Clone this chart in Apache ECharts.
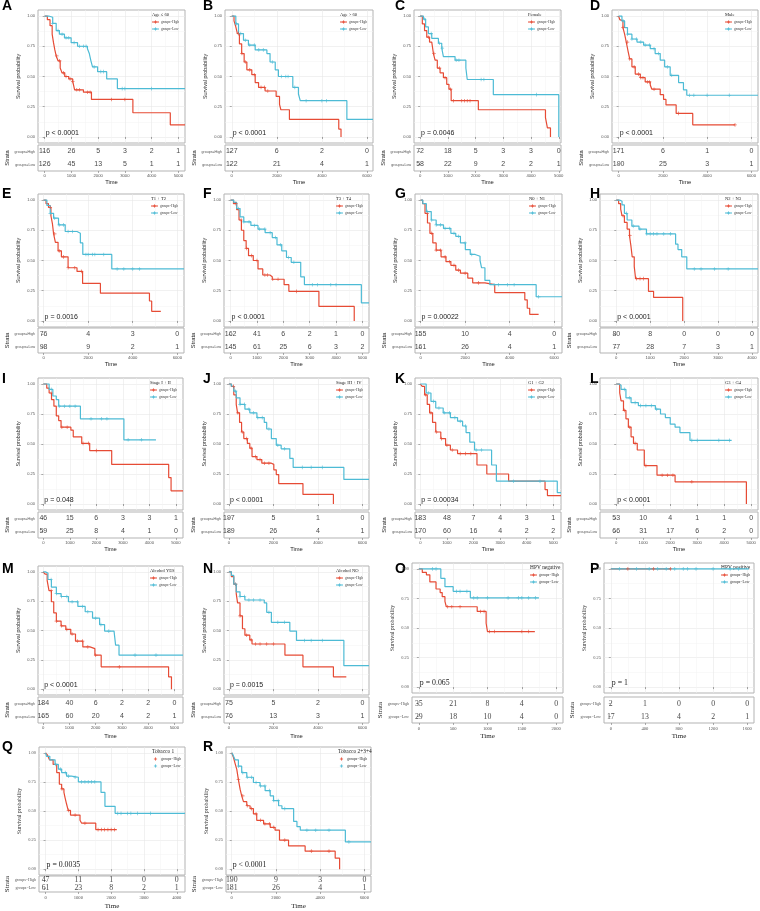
<!DOCTYPE html>
<html><head><meta charset="utf-8">
<script src="https://cdn.jsdelivr.net/npm/echarts@6/dist/echarts.min.js"></script>
<style>html,body{margin:0;padding:0;background:#fff}#c{width:760px;height:911px}</style>
</head><body><div id="c"></div>
<script>
// ---------------- DATA ----------------
var panelIds = ['A','B','C','D','E','F','G','H','I','J','K','L','M','N','O','P','Q','R'];
var legendTitles = ['Age \u2264 60','Age > 60','Female','Male','T1 + T2','T3 + T4','N0 + N1','N2 + N3','Stage I + II','Stage III + IV','G1 + G2','G3 + G4','Alcohol YES','Alcohol NO','HPV negative','HPV positive','Tobacco 1','Tobacco 2+3+4'];
var pValues = ['p < 0.0001','p < 0.0001','p = 0.0046','p < 0.0001','p = 0.0016','p < 0.0001','p = 0.00022','p < 0.0001','p = 0.048','p < 0.0001','p = 0.00034','p < 0.0001','p < 0.0001','p = 0.0015','p = 0.065','p = 1','p = 0.0035','p < 0.0001'];
var groupNames = ['groups=High','groups=Low'];

var A_high = [[0,1],[100,0.97],[200,0.92],[280,0.85],[330,0.78],[380,0.72],[430,0.67],[500,0.63],[580,0.57],[650,0.53],[750,0.50],[900,0.48],[1050,0.46],[1120,0.39],[1450,0.37],[1750,0.31],[3300,0.20],[4700,0.10],[5250,0.10]];
var A_low = [[0,1],[150,0.99],[300,0.94],[430,0.88],[550,0.85],[740,0.82],[990,0.78],[1230,0.75],[1600,0.73],[1670,0.69],[1730,0.63],[1790,0.58],[1980,0.54],[2320,0.48],[2720,0.40],[5250,0.40]];
var A_highCens = [450,560,700,800,950,1050,1200,1300,1600,1700,2500,3000];
var A_lowCens = [300,500,650,800,900,1100,1300,1450,1550,1850,2100,2200,2900,3000,4000];
var A_ticks = [0,1000,2000,3000,4000,5000];
var A_riskHigh = [116,26,5,3,2,1];
var A_riskLow = [126,45,13,5,1,1];

var B_high = [[0,1],[100,0.96],[180,0.91],[250,0.855],[340,0.77],[440,0.69],[550,0.62],[670,0.555],[890,0.515],[1040,0.45],[1190,0.41],[1480,0.38],[1970,0.335],[2120,0.27],[2180,0.225],[2560,0.145],[4750,0.065],[4850,0]];
var B_low = [[0,1],[180,0.935],[300,0.855],[520,0.80],[740,0.76],[1040,0.72],[1560,0.69],[1700,0.62],[1930,0.555],[2070,0.50],[2710,0.41],[2960,0.355],[3040,0.30],[5110,0.145],[6270,0.145]];
var B_highCens = [300,450,600,800,1000,1300,1450,1600];
var B_lowCens = [200,400,600,800,1000,1200,1400,1800,2200,2400,2500,2800,3300,4000,4200];
var B_ticks = [0,2000,4000,6000];
var B_riskHigh = [127,6,2,0];
var B_riskLow = [122,21,4,1];

var C_high = [[0,1],[80,0.935],[160,0.88],[240,0.825],[340,0.785],[420,0.77],[480,0.69],[540,0.635],[620,0.57],[720,0.53],[840,0.49],[960,0.435],[1040,0.395],[1120,0.30],[2100,0.225],[4520,0.16],[4590,0.075],[4700,0]];
var C_low = [[0,1],[120,0.975],[200,0.91],[300,0.855],[420,0.815],[660,0.775],[780,0.735],[840,0.665],[1260,0.635],[1650,0.57],[1700,0.475],[2640,0.35],[5000,0]];
var C_highCens = [300,500,700,900,1100,1200,1500,1600,1700,1800];
var C_lowCens = [150,400,700,800,1300,1400,2200,2300,4200];
var C_ticks = [0,1000,2000,3000,4000,5000];
var C_riskHigh = [72,18,5,3,3,0];
var C_riskLow = [58,22,9,2,2,1];

var D_high = [[0,1],[50,0.97],[105,0.96],[195,0.905],[270,0.85],[345,0.785],[420,0.715],[500,0.645],[600,0.58],[750,0.52],[980,0.49],[1200,0.455],[1430,0.43],[1500,0.395],[1880,0.35],[2030,0.31],[2140,0.265],[2600,0.195],[3350,0.10],[5260,0.10]];
var D_low = [[0,1],[150,0.96],[270,0.905],[400,0.85],[600,0.81],[830,0.785],[1130,0.76],[1430,0.73],[1650,0.69],[1880,0.635],[2080,0.58],[2330,0.51],[2710,0.45],[2930,0.39],[3080,0.345],[6300,0.345]];
var D_highCens = [200,400,500,700,900,1000,1100,1300,1400,1600,2700,5260];
var D_lowCens = [200,400,600,800,1000,1200,1400,1600,1800,2200,2400,3200,3400,4000,5000];
var D_ticks = [0,2000,4000,6000];
var D_riskHigh = [171,6,1,0];
var D_riskLow = [190,25,3,1];

var E_high = [[0,1],[110,0.97],[220,0.94],[330,0.87],[400,0.80],[450,0.72],[530,0.65],[650,0.58],[800,0.53],[1100,0.44],[1500,0.41],[1750,0.31],[2550,0.23],[4750,0.165],[4850,0.08],[5260,0.08]];
var E_low = [[0,1],[150,0.955],[300,0.89],[450,0.85],[670,0.795],[970,0.74],[1500,0.725],[1650,0.645],[1760,0.55],[3060,0.43],[6300,0.43]];
var E_highCens = [300,500,700,900,1100,1400,1700];
var E_lowCens = [300,500,700,900,1100,1300,1900,2000,2200,2300,2700,3300,3600,4000,4300];
var E_ticks = [0,2000,4000,6000];
var E_riskHigh = [76,4,3,0];
var E_riskLow = [98,9,2,1];

var F_high = [[0,1],[110,0.97],[230,0.92],[320,0.835],[410,0.75],[500,0.665],[590,0.60],[680,0.54],[860,0.50],[1040,0.43],[1220,0.38],[1490,0.365],[1580,0.345],[2030,0.30],[2210,0.245],[3350,0.12],[4690,0]];
var F_low = [[0,1],[120,0.98],[230,0.93],[360,0.86],[500,0.82],[770,0.79],[1040,0.76],[1310,0.73],[1580,0.69],[1760,0.63],[1940,0.58],[2120,0.525],[2300,0.485],[2660,0.365],[2800,0.30],[4960,0.15],[5250,0.15]];
var F_highCens = [200,400,600,800,1000,1300,1400,1600,1800,2500];
var F_lowCens = [300,500,700,900,1100,1300,1500,1700,1900,2200,2400,3100,3300,3800,4000];
var F_ticks = [0,1000,2000,3000,4000,5000];
var F_riskHigh = [162,41,6,2,1,0];
var F_riskLow = [145,61,25,6,3,2];

var G_high = [[0,1],[90,0.97],[200,0.89],[310,0.81],[420,0.725],[550,0.645],[700,0.585],[920,0.53],[1140,0.49],[1360,0.46],[1580,0.42],[1790,0.395],[2120,0.355],[2340,0.315],[2890,0.30],[3330,0.235],[4680,0.175],[4790,0.105],[4900,0.055],[5300,0.055]];
var G_low = [[0,1],[100,0.97],[260,0.905],[480,0.835],[700,0.795],[1030,0.765],[1360,0.725],[1580,0.70],[1790,0.645],[2010,0.59],[2230,0.55],[2450,0.535],[2670,0.50],[2740,0.44],[2890,0.335],[3110,0.30],[5190,0.20],[6350,0.20]];
var G_highCens = [300,500,700,900,1100,1300,1500,1700,2000,2600];
var G_lowCens = [300,500,700,900,1100,1300,1500,1700,2000,2300,3300,3500,3900,4200,5300];
var G_ticks = [0,2000,4000,6000];
var G_riskHigh = [155,10,4,0];
var G_riskLow = [161,26,4,1];

var H_high = [[0,1],[70,0.97],[130,0.925],[170,0.87],[240,0.815],[320,0.76],[390,0.705],[430,0.625],[470,0.53],[530,0.45],[570,0.35],[950,0.245],[1100,0.195],[1960,0]];
var H_low = [[0,1],[100,0.99],[170,0.96],[240,0.89],[320,0.835],[460,0.785],[670,0.76],[890,0.72],[1750,0.635],[1820,0.59],[1930,0.53],[2080,0.43],[4180,0.43]];
var H_highCens = [200,400,600,700,800];
var H_lowCens = [300,500,700,900,1000,1100,1200,1400,1600,2300,2500,2900,3300];
var H_ticks = [0,1000,2000,3000,4000];
var H_riskHigh = [80,8,0,0,0];
var H_riskLow = [77,28,7,3,1];

var I_high = [[0,1],[130,0.965],[220,0.925],[310,0.87],[400,0.815],[490,0.735],[580,0.695],[670,0.64],[1040,0.615],[1130,0.56],[1450,0.505],[1750,0.445],[2580,0.33],[4730,0.22],[4820,0.11],[5270,0.11]];
var I_low = [[0,1],[220,0.955],[360,0.90],[490,0.87],[580,0.815],[1400,0.71],[3040,0.535],[4250,0.535]];
var I_highCens = [300,700,900,1500,1700,2000];
var I_lowCens = [300,600,800,1000,1200,1800,2200,2400,3200,3700];
var I_ticks = [0,1000,2000,3000,4000,5000];
var I_riskHigh = [46,15,6,3,3,1];
var I_riskLow = [59,25,8,4,1,0];

var J_high = [[0,1],[110,0.98],[220,0.91],[330,0.83],[390,0.76],[480,0.68],[570,0.60],[670,0.545],[830,0.505],[940,0.465],[1040,0.395],[1260,0.37],[1480,0.34],[1910,0.33],[2020,0.285],[2130,0.245],[2240,0.17],[3330,0.08],[4700,0]];
var J_low = [[0,1],[110,0.98],[220,0.94],[330,0.885],[500,0.83],[720,0.79],[940,0.76],[1260,0.72],[1590,0.68],[1700,0.625],[1910,0.545],[2130,0.49],[2350,0.46],[2740,0.38],[2890,0.305],[5170,0.205],[6300,0.205]];
var J_highCens = [200,400,600,800,1000,1200,1400,1600,1800];
var J_lowCens = [300,500,700,900,1100,1300,1500,1800,2200,2500,3300,3700,4200];
var J_ticks = [0,2000,4000,6000];
var J_riskHigh = [197,5,1,0];
var J_riskLow = [189,26,4,1];

var K_high = [[0,1],[70,0.98],[160,0.91],[260,0.83],[350,0.76],[460,0.68],[580,0.60],[770,0.545],[950,0.49],[1130,0.45],[1400,0.42],[2130,0.325],[2500,0.25],[3320,0.19],[4690,0.12],[4780,0.07],[5290,0.07]];
var K_low = [[0,1],[220,0.925],[400,0.855],[580,0.80],[860,0.76],[1130,0.72],[1400,0.69],[1590,0.65],[1720,0.595],[1860,0.515],[2040,0.45],[2680,0.325],[2860,0.19],[5150,0.095],[5290,0.095]];
var K_highCens = [200,400,600,800,1000,1200,1500,1700,1900];
var K_lowCens = [300,500,700,900,1100,1300,1500,1700,2100,2300,3500,4500];
var K_ticks = [0,1000,2000,3000,4000,5000];
var K_riskHigh = [183,48,7,4,3,1];
var K_riskLow = [170,60,16,4,2,2];

var L_high = [[0,1],[130,0.925],[180,0.86],[270,0.78],[360,0.71],[450,0.64],[550,0.56],[640,0.505],[780,0.45],[1040,0.32],[1510,0.24],[2180,0.185],[4820,0]];
var L_low = [[0,1],[100,0.99],[180,0.955],[360,0.885],[550,0.845],[820,0.82],[1450,0.79],[1640,0.75],[1820,0.72],[2000,0.665],[2180,0.64],[2360,0.595],[2730,0.53],[4270,0.53]];
var L_highCens = [300,500,700,1100,1700,1900,2100,2800];
var L_lowCens = [300,500,700,900,1100,1300,1500,2800,3000,3800,4200];
var L_ticks = [0,1000,2000,3000,4000,5000];
var L_riskHigh = [53,10,4,1,1,0];
var L_riskLow = [66,31,17,6,2,0];

var M_high = [[0,1],[70,0.98],[150,0.925],[220,0.84],[310,0.745],[400,0.65],[500,0.58],[680,0.54],[860,0.51],[1050,0.47],[1230,0.41],[1510,0.36],[1780,0.345],[1970,0.29],[2210,0.19],[4780,0.105],[4890,0]];
var M_low = [[0,1],[80,0.99],[180,0.935],[310,0.87],[500,0.815],[680,0.79],[960,0.745],[1320,0.705],[1600,0.66],[1880,0.605],[2150,0.55],[2340,0.495],[2700,0.48],[2760,0.375],[2890,0.29],[5330,0.29]];
var M_highCens = [300,500,700,900,1100,1300,1500,1700,2000,2900];
var M_lowCens = [300,500,700,900,1100,1300,1500,1700,2000,2200,2500,3500,4300];
var M_ticks = [0,1000,2000,3000,4000,5000];
var M_riskHigh = [184,40,6,2,2,0];
var M_riskLow = [165,60,20,4,2,1];

var N_high = [[0,1],[110,0.96],[220,0.895],[330,0.815],[390,0.735],[500,0.625],[610,0.515],[720,0.46],[940,0.42],[1040,0.385],[2520,0.29],[3330,0.19],[4700,0.105],[5280,0.105]];
var N_low = [[0,1],[110,0.97],[220,0.895],[330,0.83],[500,0.79],[720,0.76],[1590,0.735],[1700,0.655],[1910,0.57],[2740,0.495],[3040,0.415],[5170,0.20],[6300,0.20]];
var N_highCens = [300,500,800,1000,1200,1400,1700,2000];
var N_lowCens = [300,500,700,900,1100,1400,1800,2200,2500,3400,3700,4200];
var N_ticks = [0,2000,4000,6000];
var N_riskHigh = [75,5,2,0];
var N_riskLow = [76,13,3,1];

var O_high = [[0,1],[50,0.97],[110,0.95],[160,0.89],[250,0.83],[310,0.80],[340,0.765],[380,0.725],[400,0.68],[850,0.64],[980,0.54],[1000,0.47],[1690,0.47]];
var O_low = [[0,1],[320,0.92],[380,0.85],[500,0.81],[750,0.755],[1750,0.755]];
var O_highCens = [420,480,600,900,950,1030,1100,1500,1600];
var O_lowCens = [200,250,550,600,700,800,850,1000,1300,1450,1500,1600,1700];
var O_ticks = [0,500,1000,1500,2000];
var O_riskHigh = [35,21,8,4,0];
var O_riskLow = [29,18,10,4,0];

var P_high = [[0,1],[700,1]];
var P_low = [[0,1],[1620,1]];
var P_highCens = [200,500,700];
var P_lowCens = [100,300,450,550,650,750,850,900,1000,1200,1400,1500];
var P_ticks = [0,400,800,1200,1600];
var P_riskHigh = [2,1,0,0,0];
var P_riskLow = [17,13,4,2,1];

var Q_high = [[0,1],[60,0.98],[120,0.94],[230,0.90],[340,0.83],[420,0.73],[490,0.69],[560,0.66],[590,0.62],[640,0.56],[690,0.505],[760,0.465],[1050,0.42],[1100,0.395],[1530,0.34],[2170,0.34]];
var Q_low = [[0,1],[30,0.97],[130,0.94],[290,0.90],[390,0.86],[490,0.83],[640,0.80],[790,0.79],[1000,0.75],[1690,0.66],[1810,0.54],[2120,0.48],[4250,0.48]];
var Q_highCens = [500,700,900,1200,1600,1700,1800,1900,2000,2100];
var Q_lowCens = [300,450,600,700,900,1100,1200,1300,1400,1500,2200,2300,2500,2600,2800,3200];
var Q_ticks = [0,1000,2000,3000,4000];
var Q_riskHigh = [47,11,1,0,0];
var Q_riskLow = [61,23,8,2,1];

var R_high = [[0,1],[80,0.96],[150,0.91],[230,0.855],[300,0.77],[380,0.685],[450,0.63],[530,0.58],[680,0.545],[830,0.52],[980,0.475],[1130,0.42],[1440,0.39],[1740,0.36],[1960,0.335],[2160,0.25],[2570,0.20],[3320,0.155],[4680,0.095],[4880,0]];
var R_low = [[0,1],[60,0.98],[150,0.94],[300,0.885],[450,0.83],[680,0.79],[980,0.745],[1280,0.715],[1510,0.675],[1740,0.63],[1890,0.59],[2120,0.545],[2270,0.52],[2800,0.41],[2950,0.365],[3100,0.335],[5140,0.235],[6300,0.235]];
var R_highCens = [300,500,700,900,1100,1300,1500,1700,1900,2400,3600,4400];
var R_lowCens = [300,500,700,900,1100,1300,1500,1700,1900,2100,2400,3400,3800,4400,5300];
var R_ticks = [0,2000,4000,6000];
var R_riskHigh = [190,9,3,0];
var R_riskLow = [181,26,4,1];

var yTicks = [0,0.25,0.5,0.75,1];

// ---------------- LAYOUT (positions / styles only) ----------------
var rowY = [[10,143,145,171,5],[194,327,328,353,6],[378,510,512,538,5],[566,695,697,723,8],[747,875,876,895,9]];
var boxX = {A:[38,185],B:[225,373],C:[414,561],D:[612,758],E:[38,184],F:[224,369],G:[415,562],H:[600,758],
  I:[38,183],J:[224,369],K:[415,561],L:[600,758],M:[38,183],N:[224,369],O:[412,563],P:[604,754],Q:[39,185],R:[226,371]};
var xRange = {A:[-250,5250],B:[-300,6270],C:[-220,5080],D:[-300,6300],E:[-250,6300],F:[-250,5250],G:[-250,6350],H:[-480,4180],
  I:[-200,5270],J:[-220,6300],K:[-200,5290],L:[-600,5250],M:[-200,5330],N:[-220,6300],O:[-100,2100],P:[-80,1680],Q:[-200,4250],R:[-260,6300]};
var serifPanels = {O:1,P:1,Q:1,R:1};
var letterX = [2,203,395,590];
var letterY = [7,195,380,570,748];

var RED = '#E64B35', BLUE = '#4DBBD5';
var SANS = '"Liberation Sans", Arial, sans-serif';
var SERIF = '"Liberation Serif", "Times New Roman", serif';
var PLUS = 'path://M4,0H6V4H10V6H6V10H4V6H0V4H4Z';

function stepAt(curve, t) {
  var s = curve[0][1];
  for (var k = 0; k < curve.length; k++) { if (curve[k][0] <= t) s = curve[k][1]; else break; }
  return s;
}
function mids(arr) { var o = []; for (var k = 0; k + 1 < arr.length; k++) o.push((arr[k] + arr[k+1]) / 2); return o; }
function plain(v) { return String(Math.round(v)); }

var chart = echarts.init(document.getElementById('c'), null, {renderer: 'canvas'});
var grids = [], xAxes = [], yAxes = [], series = [];

panelIds.forEach(function (id, i) {
  var row = Math.floor(i / 4);
  var ry = rowY[row].slice();
  if (id === 'O' || id === 'P') { ry[0] = 563; ry[1] = 693; }
  var bx = boxX[id], xr = xRange[id];
  var serif = !!serifPanels[id];
  var ff = serif ? SERIF : SANS;
  var ticks = window[id + '_ticks'];
  var high = window[id + '_high'], low = window[id + '_low'];

  grids.push({left: bx[0], top: ry[0], width: bx[1] - bx[0], height: ry[1] - ry[0], show: true, borderColor: '#b3b3b3', borderWidth: 1, backgroundColor: '#fff', containLabel: false});
  grids.push({left: bx[0], top: ry[2], width: bx[1] - bx[0], height: ry[3] - ry[2], show: true, borderColor: '#b3b3b3', borderWidth: 1, backgroundColor: '#fff', containLabel: false});
  var g = 2 * i;
  xAxes.push({type: 'value', gridIndex: g, min: xr[0], max: xr[1], position: 'bottom',
    axisLine: {show: false}, axisLabel: {show: false, customValues: ticks},
    axisTick: {show: true, customValues: ticks, length: 2, lineStyle: {color: '#666', width: 0.6}},
    splitLine: {show: true, lineStyle: {color: '#e8e8e8', width: 0.6}}});
  xAxes.push({type: 'value', gridIndex: g, min: xr[0], max: xr[1], position: 'bottom',
    axisLine: {show: false}, axisLabel: {show: false}, axisTick: {show: false, customValues: mids(ticks)},
    splitLine: {show: true, lineStyle: {color: '#f3f3f3', width: 0.5}}});
  xAxes.push({type: 'value', gridIndex: g + 1, min: xr[0], max: xr[1], position: 'bottom',
    axisLine: {show: false},
    axisLabel: {show: true, customValues: ticks, formatter: plain, fontSize: serif ? 4.6 : 4.2, color: '#555', fontFamily: ff, margin: 3},
    axisTick: {show: true, customValues: ticks, length: 2, lineStyle: {color: '#777', width: 0.6}},
    splitLine: {show: false},
    name: 'Time', nameLocation: 'middle', nameGap: ry[4] + 2,
    nameTextStyle: {fontSize: serif ? 7 : 5.8, color: '#222', fontFamily: ff}});
  yAxes.push({type: 'value', gridIndex: g, min: -0.05, max: 1.05,
    axisLine: {show: false},
    axisLabel: {show: true, customValues: yTicks, fontSize: serif ? 4.4 : 4.0, color: '#555', fontFamily: ff, margin: 3,
      formatter: function (v) { return Number(v).toFixed(2); }},
    axisTick: {show: true, customValues: yTicks, length: 2, lineStyle: {color: '#777', width: 0.6}},
    splitLine: {show: true, lineStyle: {color: '#e8e8e8', width: 0.6}},
    name: 'Survival probability', nameLocation: 'middle', nameRotate: 90, nameGap: 17,
    nameTextStyle: {fontSize: serif ? 5.8 : 5.4, color: '#333', fontFamily: ff}});
  yAxes.push({type: 'value', gridIndex: g, min: -0.05, max: 1.05,
    axisLine: {show: false}, axisLabel: {show: false}, axisTick: {show: false, customValues: mids(yTicks)},
    splitLine: {show: true, lineStyle: {color: '#f3f3f3', width: 0.5}}});
  yAxes.push({type: 'category', gridIndex: g + 1, data: ['groups=Low', 'groups=High'],
    axisLine: {show: false},
    axisLabel: {show: true, fontSize: serif ? 4.0 : 3.6, color: '#555', fontFamily: ff, margin: 3},
    axisTick: {show: true, alignWithLabel: true, length: 2, lineStyle: {color: '#777', width: 0.6}},
    splitLine: {show: false},
    name: 'Strata', nameLocation: 'middle', nameRotate: 90, nameGap: 23,
    nameTextStyle: {fontSize: serif ? 7 : 5.8, color: '#222', fontFamily: ff}});

  var xi = 3 * i, yi = 3 * i;
  series.push({type: 'line', xAxisIndex: xi, yAxisIndex: yi, data: high, step: 'end', showSymbol: false, symbol: 'none',
    lineStyle: {color: RED, width: 1.2}, silent: true, z: 3});
  series.push({type: 'line', xAxisIndex: xi, yAxisIndex: yi, data: low, step: 'end', showSymbol: false, symbol: 'none',
    lineStyle: {color: BLUE, width: 1.2}, silent: true, z: 4});
  series.push({type: 'scatter', xAxisIndex: xi, yAxisIndex: yi, symbol: PLUS, symbolSize: 3.6, silent: true, z: 5,
    itemStyle: {color: RED}, data: window[id + '_highCens'].map(function (t) { return [t, stepAt(high, t)]; })});
  series.push({type: 'scatter', xAxisIndex: xi, yAxisIndex: yi, symbol: PLUS, symbolSize: 3.6, silent: true, z: 5,
    itemStyle: {color: BLUE}, data: window[id + '_lowCens'].map(function (t) { return [t, stepAt(low, t)]; })});
  var rh = window[id + '_riskHigh'], rl = window[id + '_riskLow'];
  var rdata = [];
  ticks.forEach(function (t, k) { rdata.push([t, 'groups=High', rh[k]]); rdata.push([t, 'groups=Low', rl[k]]); });
  series.push({type: 'scatter', xAxisIndex: xi + 2, yAxisIndex: yi + 2, symbolSize: 0.01, silent: true,
    itemStyle: {color: 'rgba(0,0,0,0)'}, data: rdata,
    label: {show: true, position: 'inside', formatter: function (p) { return String(p.value[2]); },
      fontSize: serif ? 7.8 : 7, color: '#111', fontFamily: ff}});
});

chart.setOption({animation: false, backgroundColor: '#fff', grid: grids, xAxis: xAxes, yAxis: yAxes, series: series});

// ---------------- annotations (positioned via the chart's own scales) ----------------
var graphics = [];
panelIds.forEach(function (id, i) {
  var row = Math.floor(i / 4), col = i % 4;
  var serif = !!serifPanels[id];
  var ff = serif ? SERIF : SANS;
  var bx = boxX[id];
  var gTop = chart.convertToPixel({xAxisIndex: 3 * i, yAxisIndex: 3 * i}, [xRange[id][0], 1.05]);
  var p0 = chart.convertToPixel({xAxisIndex: 3 * i, yAxisIndex: 3 * i}, [0, 0]);
  graphics.push({type: 'text', left: letterX[col], top: letterY[row] - 8,
    style: {text: id, font: 'bold 14px ' + SANS, fill: '#000'}});
  graphics.push({type: 'text', x: p0[0] + 1, y: p0[1] - 4,
    style: {text: pValues[i], fontSize: serif ? 7.8 : 7, fontFamily: ff, fill: '#222', textVerticalAlign: 'middle', textAlign: 'left'}});
  var lx = bx[1] - 33, ly = gTop[1];
  graphics.push({type: 'text', x: lx, y: ly + 5,
    style: {text: legendTitles[i], fontSize: serif ? 5.4 : 4.6, fontFamily: SERIF, fill: '#222', textVerticalAlign: 'middle'}});
  [[RED, groupNames[0], 12], [BLUE, groupNames[1], 19]].forEach(function (it) {
    var yy = ly + it[2];
    if (id !== 'Q' && id !== 'R') {
      graphics.push({type: 'line', shape: {x1: lx, y1: yy, x2: lx + 7, y2: yy}, style: {stroke: it[0], lineWidth: 1}});
    }
    graphics.push({type: 'line', shape: {x1: lx + 3.5, y1: yy - 1.6, x2: lx + 3.5, y2: yy + 1.6}, style: {stroke: it[0], lineWidth: 0.8}});
    graphics.push({type: 'line', shape: {x1: lx + 1.9, y1: yy, x2: lx + 5.1, y2: yy}, style: {stroke: it[0], lineWidth: 0.8}});
    graphics.push({type: 'text', x: lx + 9, y: yy,
      style: {text: it[1], fontSize: serif ? 3.8 : 3.4, fontFamily: SERIF, fill: '#333', textVerticalAlign: 'middle'}});
  });
});
chart.setOption({graphic: graphics});
</script>
</body></html>
